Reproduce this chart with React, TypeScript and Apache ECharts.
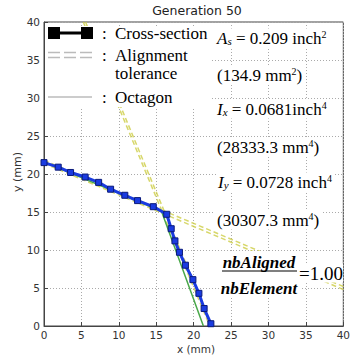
import React, { useEffect, useRef } from "react";
import * as echarts from "echarts";

// Cross-section polyline (x mm, y mm)
const crossSection: number[][] = [
  [0, 21.5], [1.9, 20.9], [3.55, 20.2], [5.5, 19.6], [7.3, 18.9], [8.9, 18.0],
  [10.8, 17.2], [12.5, 16.5], [14.6, 15.7], [16.4, 14.7], [17.0, 12.8], [17.5, 11.2],
  [18.1, 9.7], [18.9, 8.0], [19.9, 6.1], [20.7, 4.3], [21.4, 2.3], [22.3, 0.3],
];
// Octagon outline
const octagon: number[][] = [[0, 21.6], [15.7, 15.1], [21.3, 0]];
// Alignment tolerance lines (pairs)
const tolShallowA: number[][] = [[0, 21.8], [40, 5.2]];
const tolShallowB: number[][] = [[0, 21.4], [40, 4.8]];
const tolSteepA: number[][] = [[5.25, 40], [22.15, 0]];
const tolSteepB: number[][] = [[5.55, 40], [22.45, 0]];

const axisMin = 0;
const axisMax = 40;
const axisStep = 5;

const title = "Generation 50";
const xName = "x (mm)";
const yName = "y (mm)";

const SERIF = "Liberation Serif, Times New Roman, serif";
const SANS = "DejaVu Sans, sans-serif";

export default function App() {
  const ref = useRef<HTMLDivElement>(null);
  useEffect(() => {
    document.body.style.margin = "0";
    if (!ref.current) return;
    const chart = echarts.init(ref.current, null, { renderer: "svg" });
    const yellow = "rgba(205,205,70,0.8)";
    const tolSeries = (data: number[][]) => ({
      type: "line",
      data,
      symbol: "none",
      silent: true,
      lineStyle: { color: yellow, width: 1.5, type: [5, 3] },
      z: 2,
    });
    const rich = {
      n: { fontFamily: SERIF, fontSize: 17, color: "#000" },
      i: { fontFamily: SERIF, fontSize: 17, fontStyle: "italic", color: "#000" },
      sub: { fontFamily: SERIF, fontSize: 11, fontStyle: "italic", color: "#000", verticalAlign: "bottom" },
      sup: { fontFamily: SERIF, fontSize: 10, color: "#000", verticalAlign: "top" },
    };
    const rt = (x: number, y: number, text: string) => ({
      type: "text",
      x,
      y,
      z: 100,
      style: {
        text, rich, textVerticalAlign: "middle", fill: "#000", font: `17px ${SERIF}`,
        backgroundColor: "#fff", padding: [1, 2, 1, 2],
      },
    });
    const plain = (x: number, y: number, text: string, extra: any = {}) => ({
      type: "text",
      x,
      y,
      z: 100,
      style: { text, fill: "#000", font: `17px ${SERIF}`, textVerticalAlign: "middle", ...extra },
    });
    const axisCommon = {
      type: "value",
      min: axisMin,
      max: axisMax,
      interval: axisStep,
      axisLine: { show: true, lineStyle: { color: "#444", width: 1 } },
      axisTick: { show: true, inside: true, length: 4, lineStyle: { color: "#444" } },
      axisLabel: { fontFamily: SANS, fontSize: 10.5, color: "#333" },
      splitLine: { show: true, lineStyle: { color: "#aaa", type: [1, 2], width: 1 } },
    };
    chart.setOption({
      animation: false,
      grid: { left: 44, top: 22, width: 304, height: 304, show: true, borderColor: "#444", borderWidth: 1 },
      xAxis: { ...axisCommon, axisLabel: { ...axisCommon.axisLabel, margin: 3 } },
      yAxis: { ...axisCommon, axisLabel: { ...axisCommon.axisLabel, margin: 4 } },
      series: [
        tolSeries(tolShallowA),
        tolSeries(tolShallowB),
        tolSeries(tolSteepA),
        tolSeries(tolSteepB),
        {
          type: "line",
          data: octagon,
          symbol: "none",
          silent: true,
          lineStyle: { color: "#4aa84a", width: 1.5 },
          z: 3,
        },
        {
          type: "line",
          data: crossSection,
          symbol: "rect",
          symbolSize: 6,
          silent: true,
          lineStyle: { color: "#1a3be0", width: 3 },
          itemStyle: { color: "#1a3be0", borderColor: "#0a1a7a", borderWidth: 1 },
          z: 4,
        },
      ],
      graphic: [
        { type: "text", x: 197, y: 10, style: { text: title, font: `12.5px ${SANS}`, fill: "#222", textAlign: "center", textVerticalAlign: "middle" } },
        { type: "text", x: 196, y: 349, style: { text: xName, font: `10.5px ${SANS}`, fill: "#333", textAlign: "center", textVerticalAlign: "middle" } },
        { type: "text", x: 17, y: 172, rotation: Math.PI / 2, style: { text: yName, font: `11px ${SANS}`, fill: "#333", textAlign: "center", textVerticalAlign: "middle" } },
        // legend background box
        { type: "rect", z: 90, shape: { x: 45, y: 26, width: 166, height: 81 }, style: { fill: "#fff" } },
        // legend: cross-section
        { type: "line", z: 100, shape: { x1: 52, y1: 33, x2: 89, y2: 33 }, style: { stroke: "#000", lineWidth: 3 } },
        { type: "rect", z: 100, shape: { x: 48, y: 27, width: 12, height: 12 }, style: { fill: "#000" } },
        { type: "rect", z: 100, shape: { x: 81, y: 27, width: 12, height: 12 }, style: { fill: "#000" } },
        plain(102, 33, ":"),
        plain(115, 33, "Cross-section"),
        // legend: alignment tolerance
        { type: "line", z: 100, shape: { x1: 48, y1: 52.5, x2: 93, y2: 52.5 }, style: { stroke: "#bbb", lineWidth: 1.5, lineDash: [12, 4] } },
        { type: "line", z: 100, shape: { x1: 48, y1: 57.5, x2: 93, y2: 57.5 }, style: { stroke: "#bbb", lineWidth: 1.5, lineDash: [12, 4] } },
        plain(102, 55, ":"),
        plain(115, 55, "Alignment"),
        plain(115, 73, "tolerance"),
        // legend: octagon
        { type: "line", z: 100, shape: { x1: 48, y1: 97, x2: 92, y2: 97 }, style: { stroke: "#999", lineWidth: 1 } },
        plain(102, 97, ":"),
        plain(115, 97, "Octagon"),
        // annotations
        rt(215, 38, "{i|A}{sub|s}{n| = 0.209 inch}{sup|2}"),
        rt(215, 75, "{n|(134.9 mm}{sup|2}{n|)}"),
        rt(215, 109, "{i|I}{sub|x}{n| = 0.0681inch}{sup|4}"),
        rt(215, 147, "{n|(28333.3 mm}{sup|4}{n|)}"),
        rt(216, 182, "{i|I}{sub|y}{n| = 0.0728 inch}{sup|4}"),
        rt(215, 220, "{n|(30307.3 mm}{sup|4}{n|)}"),
        // fraction background + text
        { type: "rect", z: 90, shape: { x: 219, y: 251, width: 82, height: 47 }, style: { fill: "#fff" } },
        plain(259, 262, "nbAligned", { textAlign: "center", font: `italic bold 17px ${SERIF}` }),
        { type: "line", z: 100, shape: { x1: 222, y1: 271, x2: 297, y2: 271 }, style: { stroke: "#000", lineWidth: 1.2 } },
        plain(259, 288, "nbElement", { textAlign: "center", font: `italic bold 17px ${SERIF}` }),
        plain(299, 273, "=1.00", { backgroundColor: "#fff", font: `19px ${SERIF}` }),
      ],
    });
    return () => chart.dispose();
  }, []);
  return <div ref={ref} style={{ width: 353, height: 356 }} />;
}
